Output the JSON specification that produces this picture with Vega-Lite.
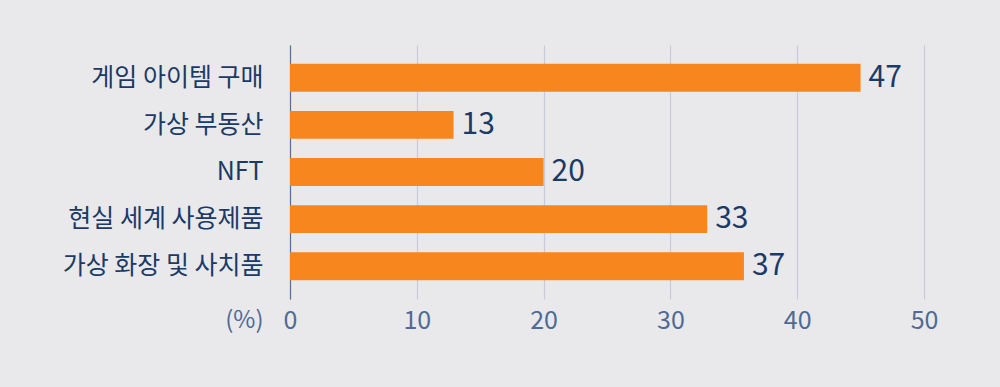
{
  "$schema": "https://vega.github.io/schema/vega-lite/v6.json",
  "autosize": "none",
  "width": 634,
  "height": 254,
  "padding": {"left": 290, "top": 45, "right": 76, "bottom": 88},
  "background": "#e9e9ec",
  "config": {
    "view": {"stroke": null},
    "font": "Noto Sans CJK KR"
  },
  "data": {
    "values": [
      {"item": "게임 아이템 구매", "bar": 45, "label": "47"},
      {"item": "가상 부동산", "bar": 12.9, "label": "13"},
      {"item": "NFT", "bar": 20, "label": "20"},
      {"item": "현실 세계 사용제품", "bar": 32.9, "label": "33"},
      {"item": "가상 화장 및 사치품", "bar": 35.8, "label": "37"}
    ]
  },
  "encoding": {
    "y": {
      "field": "item",
      "type": "nominal",
      "sort": null,
      "scale": {"paddingInner": 0.41, "paddingOuter": 0.4},
      "axis": {
        "title": null,
        "ticks": false,
        "labelPadding": 27,
        "labelFontSize": 25,
        "labelLimit": 400,
        "labelColor": "#1b3a66",
        "domainColor": "#5b6f99",
        "domainWidth": 1.2,
        "grid": false
      }
    }
  },
  "layer": [
    {
      "mark": {"type": "bar", "color": "#f7861f"},
      "encoding": {
        "x": {
          "field": "bar",
          "type": "quantitative",
          "scale": {"domain": [0, 50], "nice": false},
          "axis": {
            "values": [0, 10, 20, 30, 40, 50],
            "title": "(%)",
            "titleX": -27,
            "titleY": 9,
            "titleAlign": "right",
            "titleBaseline": "top",
            "titleFontSize": 24,
            "titleFontWeight": "normal",
            "titleColor": "#4f6a95",
            "domain": false,
            "ticks": false,
            "labelFlush": false,
            "labelPadding": 9,
            "labelFontSize": 25,
            "labelColor": "#4f6a95",
            "grid": true,
            "gridColor": "#c6cadb",
            "gridWidth": 1.2
          }
        }
      }
    },
    {
      "mark": {"type": "text", "align": "left", "baseline": "middle", "dx": 8, "fontSize": 30, "color": "#1b3a66"},
      "encoding": {
        "x": {"field": "bar", "type": "quantitative"},
        "text": {"field": "label"}
      }
    }
  ]
}
